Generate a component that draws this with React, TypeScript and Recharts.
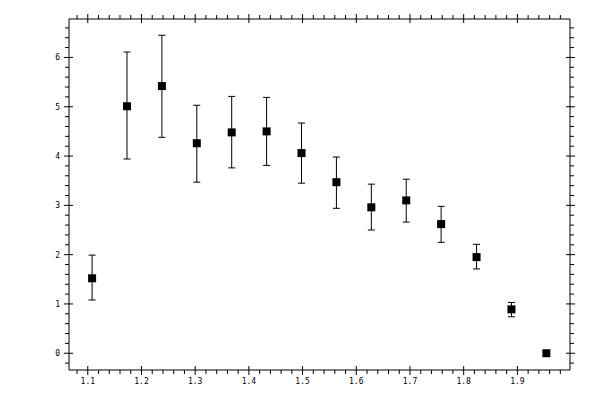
import React from "react";
import { ScatterChart, Scatter, XAxis, YAxis, ErrorBar } from "recharts";

const xValues = [1.108, 1.173, 1.238, 1.303, 1.368, 1.433, 1.498, 1.563, 1.628, 1.693, 1.758, 1.824, 1.889, 1.954];
const yValues = [1.52, 5.01, 5.42, 4.26, 4.48, 4.5, 4.06, 3.47, 2.96, 3.1, 2.62, 1.95, 0.89, 0.0];
const yLower = [1.08, 3.94, 4.38, 3.47, 3.76, 3.81, 3.45, 2.94, 2.5, 2.66, 2.25, 1.71, 0.74, 0.0];
const yUpper = [1.99, 6.11, 6.45, 5.03, 5.21, 5.19, 4.67, 3.98, 3.43, 3.53, 2.98, 2.21, 1.03, 0.0];

const xMajorTicks = [1.1, 1.2, 1.3, 1.4, 1.5, 1.6, 1.7, 1.8, 1.9];
const xTickLabels = ["1.1", "1.2", "1.3", "1.4", "1.5", "1.6", "1.7", "1.8", "1.9"];
const yMajorTicks = [0, 1, 2, 3, 4, 5, 6];
const yTickLabels = ["0", "1", "2", "3", "4", "5", "6"];
const xMinorStep = 0.02;
const yMinorStep = 0.2;
const xDomain = [1.065, 1.998];
const yDomain = [-0.34, 6.78];

function buildTicks(lo: number, hi: number, step: number) {
  const out: number[] = [];
  const start = Math.ceil(lo / step - 1e-9);
  const end = Math.floor(hi / step + 1e-9);
  for (let i = start; i <= end; i++) out.push(Math.round(i * step * 1000) / 1000);
  return out;
}

const xAllTicks = buildTicks(xDomain[0], xDomain[1], xMinorStep);
const yAllTicks = buildTicks(yDomain[0], yDomain[1], yMinorStep);

const data = xValues.map((x, i) => ({
  x,
  y: yValues[i],
  err: yUpper[i] - yLower[i] > 0 ? [yValues[i] - yLower[i], yUpper[i] - yValues[i]] : null,
}));

const FONT = "'DejaVu Sans Mono', monospace";

function majorIndex(arr: number[], v: number) {
  return arr.findIndex((m) => Math.abs(m - v) < 1e-6);
}

const makeTick = (side: "bottom" | "top" | "left" | "right") => (props: any) => {
  const { x, y, payload } = props;
  const v = payload.value;
  const majors = side === "bottom" || side === "top" ? xMajorTicks : yMajorTicks;
  const labels = side === "bottom" || side === "top" ? xTickLabels : yTickLabels;
  const mi = majorIndex(majors, v);
  const isMajor = mi >= 0;
  const inner = isMajor ? 4 : 0;
  const outer = isMajor ? 5 : 4;
  if (side === "bottom") {
    return (
      <g>
        <line x1={x} x2={x} y1={y - inner} y2={y + outer} stroke="#000" strokeWidth={1} />
        {isMajor && (
          <text x={x} y={y + 14} textAnchor="middle" fontSize={8} fontFamily={FONT} fill="#000">
            {labels[mi]}
          </text>
        )}
      </g>
    );
  }
  if (side === "top") {
    return <line x1={x} x2={x} y1={y - outer} y2={y + inner} stroke="#000" strokeWidth={1} />;
  }
  if (side === "left") {
    return (
      <g>
        <line x1={x - outer} x2={x + inner} y1={y} y2={y} stroke="#000" strokeWidth={1} />
        {isMajor && (
          <text x={x - 9} y={y + 3} textAnchor="end" fontSize={8} fontFamily={FONT} fill="#000">
            {labels[mi]}
          </text>
        )}
      </g>
    );
  }
  return <line x1={x - inner} x2={x + outer} y1={y} y2={y} stroke="#000" strokeWidth={1} />;
};

const SquareShape = (props: any) => {
  const { cx, cy } = props;
  return <rect x={cx - 4} y={cy - 4} width={8} height={8} fill="#000" />;
};

export default function App() {
  return (
    <div style={{ position: "absolute", left: 0, top: 0, width: 600, height: 400, background: "#fff" }}>
      <ScatterChart width={600} height={400} margin={{ top: 0, right: 0, bottom: 0, left: 0 }}>
        <XAxis
          type="number"
          dataKey="x"
          domain={xDomain}
          allowDataOverflow
          ticks={xAllTicks}
          interval={0}
          height={30}
          tickSize={0}
          tickMargin={0}
          tickLine={false}
          axisLine={{ stroke: "#000" }}
          tick={makeTick("bottom")}
        />
        <XAxis
          xAxisId="top"
          orientation="top"
          type="number"
          dataKey="x"
          domain={xDomain}
          allowDataOverflow
          ticks={xAllTicks}
          interval={0}
          height={19}
          tickSize={0}
          tickMargin={0}
          tickLine={false}
          axisLine={{ stroke: "#000" }}
          tick={makeTick("top")}
        />
        <YAxis
          type="number"
          dataKey="y"
          domain={yDomain}
          allowDataOverflow
          ticks={yAllTicks}
          interval={0}
          width={69}
          tickSize={0}
          tickMargin={0}
          tickLine={false}
          axisLine={{ stroke: "#000" }}
          tick={makeTick("left")}
        />
        <YAxis
          yAxisId="right"
          orientation="right"
          type="number"
          dataKey="y"
          domain={yDomain}
          allowDataOverflow
          ticks={yAllTicks}
          interval={0}
          width={30}
          tickSize={0}
          tickMargin={0}
          tickLine={false}
          axisLine={{ stroke: "#000" }}
          tick={makeTick("right")}
        />
        <Scatter data={data} shape={SquareShape} isAnimationActive={false}>
          <ErrorBar dataKey="err" direction="y" width={3.5} stroke="#000" strokeWidth={1} />
        </Scatter>
      </ScatterChart>
    </div>
  );
}
